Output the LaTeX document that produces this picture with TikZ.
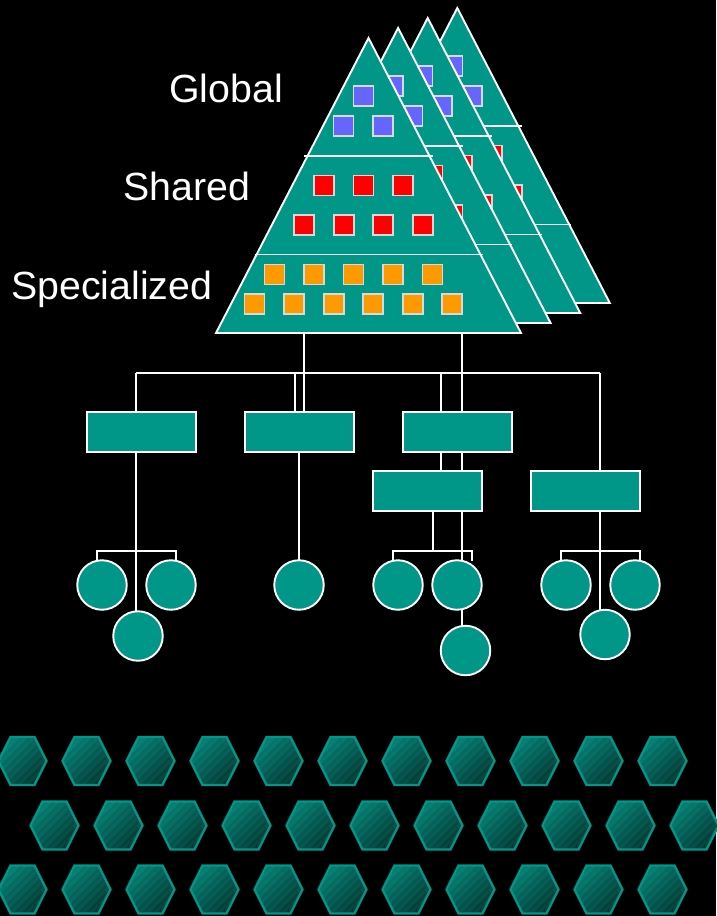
\documentclass[tikz,border=0pt]{standalone}
\usepackage{fontspec}
\setmainfont{Liberation Sans}
\usetikzlibrary{backgrounds}
\definecolor{teal1}{HTML}{009688}
\definecolor{hexa}{HTML}{008073}
\definecolor{hexb}{HTML}{00352F}
\definecolor{sqblue}{HTML}{6666FF}
\definecolor{sqred}{HTML}{FF0000}
\definecolor{sqorange}{HTML}{FF9900}
\tikzset{
  wire/.style={draw=white,line width=1.9pt},
  tier/.style={draw=white,line width=1.7pt},
  pyra/.style={draw=white,line width=1.9pt,fill=teal1,line join=miter},
  sq/.style={draw=white!85!black,line width=1.5pt,minimum size=20pt,inner sep=0pt,outer sep=0pt},
  bluesq/.style={sq,fill=sqblue},
  redsq/.style={sq,fill=sqred},
  orsq/.style={sq,fill=sqorange},
  unitbox/.style={draw=white,line width=1.9pt,fill=teal1,minimum width=108.5pt,minimum height=39.5pt,inner sep=0pt,outer sep=0pt},
  leaf/.style={circle,draw=white,line width=1.9pt,fill=teal1,minimum size=49.5pt,inner sep=0pt,outer sep=0pt},
  lab/.style={text=white,font=\fontsize{39.3}{41}\selectfont,anchor=base west,inner sep=0pt},
  hexshade/.style={left color=hexa,right color=hexb,shading angle=45},
}
\newcommand{\pyramid}[3]{%
  \begin{scope}[shift={(#1,#2)}]
    \coordinate (apex#3) at (368.5,38);
    \coordinate (bl#3) at (216,333);
    \coordinate (br#3) at (521,333);
    \draw[pyra] (apex#3) -- (br#3) -- (bl#3) -- cycle;
    \coordinate (ta#3) at (303.5,155.7); \coordinate (tb#3) at (433,155.7);
    \coordinate (tc#3) at (254.5,254.4); \coordinate (td#3) at (482.5,254.4);
    \draw[tier] (ta#3) -- (tb#3);
    \draw[tier] (tc#3) -- (td#3);
    \foreach \x/\y in {363.5/96,343.5/126,383/126}
      \node[bluesq] at (\x,\y) {};
    \foreach \x/\y in {324/185.5,363.5/185.5,403/185.5,304/225,344/225,383/225,423/225}
      \node[redsq] at (\x,\y) {};
    \foreach \x/\y in {274.5/274.5,314/274.5,353.5/274.5,393/274.5,432.5/274.5,254.5/304,294/304,334/304,373/304,413/304,452/304}
      \node[orsq] at (\x,\y) {};
  \end{scope}}
\newcommand{\hexcell}[2]{%
  \begin{scope}[shift={(#1,#2)}]
    \begin{scope}
      \clip (-24,0) -- (-12,-24) -- (12,-24) -- (24,0) -- (12,24) -- (-12,24) -- cycle;
      \shade[hexshade] (-25,-25) rectangle (25,25);
      \foreach \d in {-44,-36,...,44}
        \draw[white,opacity=0.04,line width=3.2pt] (\d-30,30) -- (\d+30,-30);
    \end{scope}
    \draw[teal1,line width=2.4pt,line join=miter] (-24,0) -- (-12,-24) -- (12,-24) -- (24,0) -- (12,24) -- (-12,24) -- cycle;
  \end{scope}}
\begin{document}
\begin{tikzpicture}[x=1pt,y=-1pt]
\useasboundingbox (0,0) rectangle (716,916);
\begin{scope}[on background layer]
  \fill[black] (0,0) rectangle (716,916);
\end{scope}
\pyramid{88.8}{-30}{d}
\pyramid{59.2}{-20}{c}
\pyramid{29.6}{-10}{b}
\pyramid{0}{0}{a}
\node[lab] (global) at (169,102) {Global};
\node[lab] (shared) at (123,200) {Shared};
\node[lab] (special) at (11,299) {Specialized};

\coordinate (busL) at (136,373);
\coordinate (busR) at (600,373);
\coordinate (pylonL) at (304,333);
\coordinate (pylonR) at (462,333);

\node[unitbox] (u1) at (141.5,432) {};
\node[unitbox] (u2) at (299.5,432) {};
\node[unitbox] (u3) at (457.5,432) {};
\node[unitbox] (u4) at (427.5,491) {};
\node[unitbox] (u5) at (585.5,491) {};

\node[leaf] (c1) at (102,585) {};
\node[leaf] (c2) at (171,585) {};
\node[leaf] (c3) at (138,636) {};
\node[leaf] (c4) at (299,585) {};
\node[leaf] (c5) at (398,585) {};
\node[leaf] (c6) at (457,585) {};
\node[leaf] (c7) at (465.5,650.5) {};
\node[leaf] (c8) at (566,585) {};
\node[leaf] (c9) at (635,585) {};
\node[leaf] (c10) at (605,634.5) {};

\coordinate (brA1) at (97,551);  \coordinate (brA2) at (176,551);
\coordinate (brB1) at (393,551); \coordinate (brB2) at (472,551);
\coordinate (brC1) at (561,551); \coordinate (brC2) at (640,551);
\coordinate (brBm) at (433,551);
\coordinate (dropA1) at (97,561);  \coordinate (dropA2) at (176,561);
\coordinate (dropB1) at (393,561); \coordinate (dropB2) at (472,561);
\coordinate (dropC1) at (561,561); \coordinate (dropC2) at (640,561);
\coordinate (d136) at (136,613);
\coordinate (d295) at (295,412);
\coordinate (d299) at (299,452);
\coordinate (d304) at (304,412);
\coordinate (d441) at (441,373);
\coordinate (d441b) at (441,471);
\coordinate (d462) at (462,561);
\coordinate (d462b) at (462,608);
\coordinate (d462c) at (462,626);
\coordinate (d600) at (600,610);
\coordinate (d295t) at (295,373);
\coordinate (d299b) at (299,560);
\coordinate (d432t) at (433,511);

\begin{scope}[on background layer]
  \draw[wire] (busL) -- (busR);
  \draw[wire] (busL) -- (d136);
  \draw[wire] (d295t) -- (d295);
  \draw[wire] (pylonL) -- (d304);
  \draw[wire] (pylonR) -- (d462);
  \draw[wire] (d462b) -- (d462c);
  \draw[wire] (d441) -- (d441b);
  \draw[wire] (busR) -- (d600);
  \draw[wire] (d299) -- (d299b);
  \draw[wire] (d432t) -- (brBm);
  \draw[wire] (dropA1) -- (brA1) -- (brA2) -- (dropA2);
  \draw[wire] (dropB1) -- (brB1) -- (brB2) -- (dropB2);
  \draw[wire] (dropC1) -- (brC1) -- (brC2) -- (dropC2);
\end{scope}

\foreach \k in {0,...,10} {
  \pgfmathsetmacro{\xa}{22.5+64*\k}
  \pgfmathsetmacro{\xb}{54.5+64*\k}
  \hexcell{\xa}{761}
  \hexcell{\xb}{825.5}
  \hexcell{\xa}{889.5}
}
\end{tikzpicture}
\end{document}
